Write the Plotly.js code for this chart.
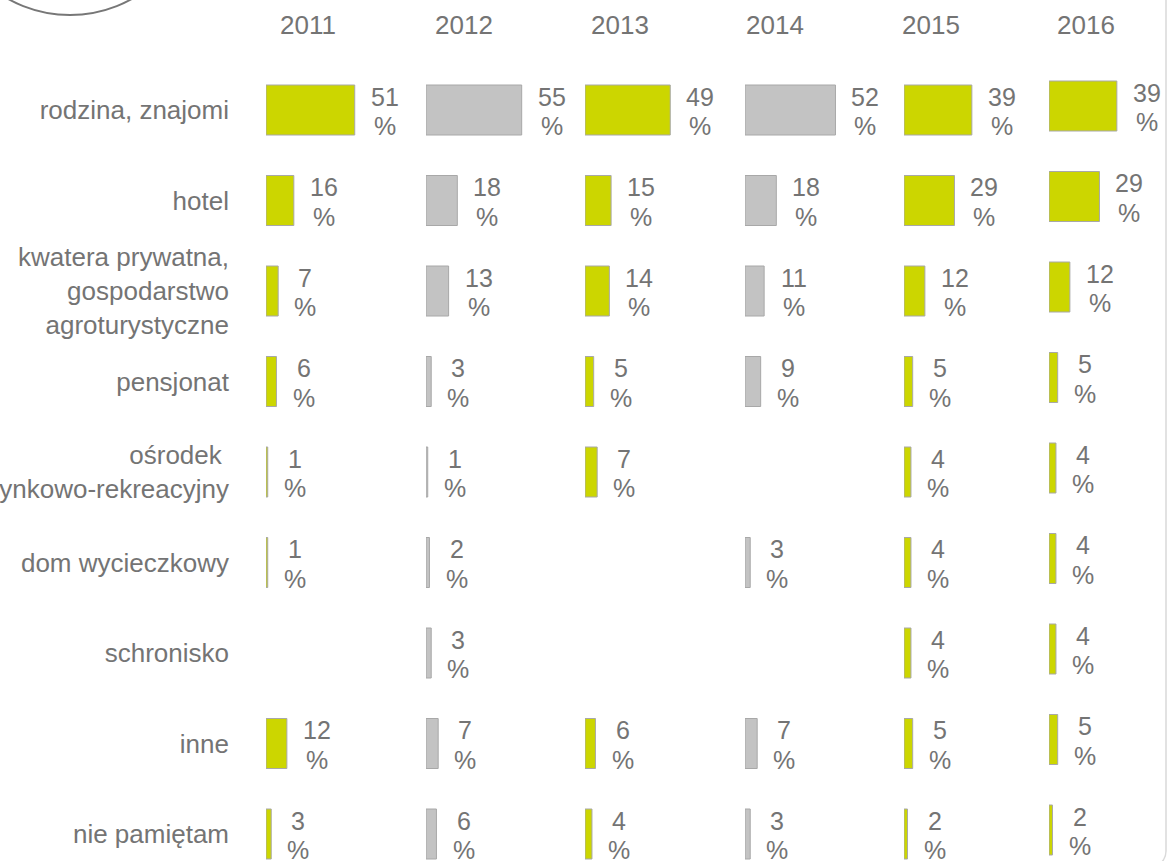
<!DOCTYPE html>
<html>
<head>
<meta charset="utf-8">
<script src="https://cdn.plot.ly/plotly-3.0.1.min.js"></script>
<style>html,body{margin:0;padding:0;background:#fff;}#chart{width:1168px;height:861px;}</style>
</head>
<body>
<div id="chart"></div>
<script>
// ---- data ----
const categories = [
  'rodzina, znajomi',
  'hotel',
  'kwatera prywatna,<br>gospodarstwo<br>agroturystyczne',
  'pensjonat',
  'ośrodek\u00a0<br>wypoczynkowo-rekreacyjny',
  'dom wycieczkowy',
  'schronisko',
  'inne',
  'nie pamiętam'
];
const years = ['2011', '2012', '2013', '2014', '2015', '2016'];
const v2011 = [51, 16, 7, 6, 1, 1, null, 12, 3];
const v2012 = [55, 18, 13, 3, 1, 2, 3, 7, 6];
const v2013 = [49, 15, 14, 5, 7, null, null, 6, 4];
const v2014 = [52, 18, 11, 9, null, 3, null, 7, 3];
const v2015 = [39, 29, 12, 5, 4, 4, 4, 5, 2];
const v2016 = [39, 29, 12, 5, 4, 4, 4, 5, 2];
const series = [v2011, v2012, v2013, v2014, v2015, v2016];

// ---- layout constants ----
const W = 1168, H = 861;
const GREEN = '#ccd600', GREY = '#c3c3c3', TXT = '#747474';
const FONT = 'Liberation Sans, Arial, sans-serif';
const colStart = [266, 426, 585, 745, 904, 1049];
const yearCenter = [308, 464, 620, 775, 931, 1086];
const colColor = [GREEN, GREY, GREEN, GREY, GREEN, GREEN];
const pxPerPct = 1.74;
const row0 = 110, rowStep = 90.5, barPx = 50;
const LBL = 25;

const traces = [];
const layout = {
  width: W, height: H,
  margin: {l: 0, r: 0, t: 0, b: 0, pad: 0},
  paper_bgcolor: '#fff', plot_bgcolor: 'rgba(0,0,0,0)',
  showlegend: false,
  font: {family: FONT, color: TXT, size: 26},
  annotations: [],
  shapes: []
};

function yRange(offsetPx) {
  const top = row0 - offsetPx;
  return [(H - top) / rowStep, (0 - top) / rowStep];
}

layout.yaxis = {
  type: 'category', categoryorder: 'array', categoryarray: categories,
  range: yRange(0), domain: [0, 1], anchor: 'x',
  showgrid: false, zeroline: false, showline: false, ticks: '',
  tickfont: {size: 26, color: TXT, family: FONT},
  ticklabelstandoff: 36, fixedrange: true
};
layout.yaxis2 = {
  type: 'category', categoryorder: 'array', categoryarray: categories,
  range: yRange(4), domain: [0, 1], anchor: 'x6',
  showgrid: false, zeroline: false, showline: false, ticks: '',
  showticklabels: false, fixedrange: true
};

series.forEach((vals, i) => {
  const s = colStart[i];
  const e = (i < 5) ? colStart[i + 1] - 8 : W;
  const axName = i === 0 ? 'xaxis' : 'xaxis' + (i + 1);
  const xRef = i === 0 ? 'x' : 'x' + (i + 1);
  const yRef = i === 5 ? 'y2' : 'y';
  layout[axName] = {
    domain: [s / W, e / W], range: [0, (e - s) / pxPerPct],
    anchor: yRef, showgrid: false, zeroline: false, showline: false,
    showticklabels: false, ticks: '', fixedrange: true
  };
  traces.push({
    type: 'bar', orientation: 'h',
    x: vals, y: categories,
    xaxis: xRef, yaxis: yRef,
    width: barPx / rowStep,
    marker: {color: colColor[i], line: {color: '#a8a8a8', width: 1}},
    hoverinfo: 'skip'
  });
  vals.forEach((v, j) => {
    if (v === null) return;
    const numW = String(v).length * 0.556 * LBL;
    const pctW = 0.889 * LBL;
    const shift = 16 + Math.max(numW, pctW) / 2;
    const common = {
      xref: xRef, yref: yRef, x: v, y: categories[j], showarrow: false,
      xanchor: 'center', yanchor: 'middle', xshift: shift,
      font: {size: LBL, color: TXT, family: FONT}
    };
    layout.annotations.push(Object.assign({}, common, {text: String(v), yshift: 13.5}));
    layout.annotations.push(Object.assign({}, common, {text: '%', yshift: -16}));
  });
  layout.annotations.push({
    xref: 'paper', yref: 'paper', x: yearCenter[i] / W, y: 1 - 25 / H,
    text: years[i], showarrow: false, xanchor: 'center', yanchor: 'middle',
    font: {size: 26, color: TXT, family: FONT}
  });
});

// decorative elements of the slide: circle at top-left, frame line at right
const cx = 70, cy = -112, r = 127;
layout.shapes.push({
  type: 'circle', xref: 'paper', yref: 'paper',
  x0: (cx - r) / W, x1: (cx + r) / W, y0: 1 - (cy + r) / H, y1: 1 - (cy - r) / H,
  line: {color: '#777777', width: 2}
});
const px = (x) => (x / W).toFixed(5), py = (y) => (1 - y / H).toFixed(5);
layout.shapes.push({
  type: 'path', xref: 'paper', yref: 'paper',
  path: 'M ' + px(1166) + ',' + py(-2) + ' L ' + px(1166) + ',' + py(851) +
        ' Q ' + px(1166) + ',' + py(858) + ' ' + px(1161) + ',' + py(863),
  line: {color: '#d9d9d9', width: 1.5}
});

Plotly.newPlot('chart', traces, layout, {displayModeBar: false, staticPlot: true});
</script>
</body>
</html>
